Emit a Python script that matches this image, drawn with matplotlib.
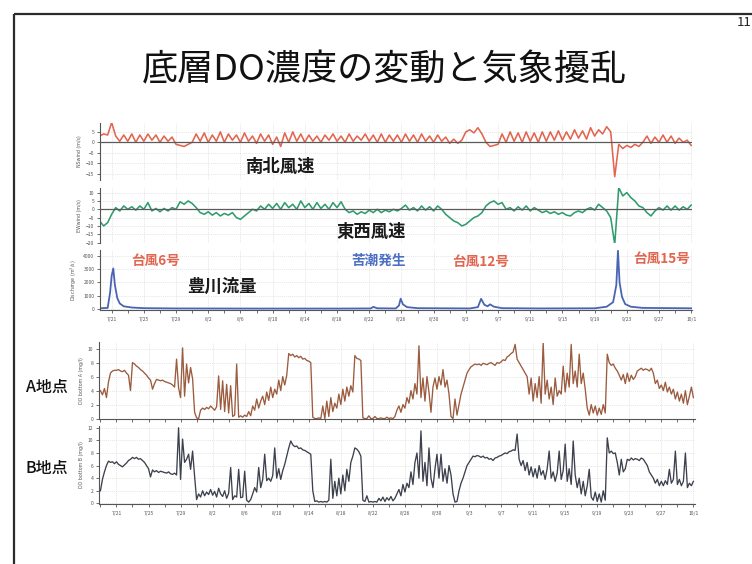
import datetime as dt
import numpy as np
import matplotlib
matplotlib.use("Agg")
import matplotlib.pyplot as plt
from matplotlib.ticker import FixedLocator, MultipleLocator

plt.rcParams['font.family'] = ['Noto Sans CJK JP', 'DejaVu Sans']

# ---------------------------------------------------------------- data
# time axis: days counted from 7/19
origin = dt.date(2000, 7, 19)
date_labels = ['7/21', '7/25', '7/29', '8/2', '8/6', '8/10', '8/14', '8/18',
               '8/22', '8/26', '8/30', '9/3', '9/7', '9/11', '9/15', '9/19',
               '9/23', '9/27', '10/1']

# wind speed (m/s), 12-hourly samples starting 7/19 12:00
WIND_START, WIND_STEP = 0.5, 0.5
ns_wind = [
    3, 4, 3.5, 9.5, 3, 0.5, 3.5, 0.5, 4, 0,
    3.5, 0.5, 4, 1, 3.5, 0, 3, 0.5, 2.5, -1,
    -1.5, -2, -1, 0, 4, 0.5, 4.5, 0, 3.5, 0.5,
    5, 0, 4, 1, 3.5, 0, 4.5, 0.5, 3, -0.5,
    4, 0.5, 3.5, -1, 2.5, -2, 4.5, 0, 5, 0.5,
    4, 0, 3.5, 0.5, 3, 0, 3.5, 1, 4, 0.5,
    3, 0, 4, 0.5, 3, 1, 4, 0.5, 3.5, 0,
    4, 0, 3.5, 0.5, 3.5, 0, 4, 0.5, 3.5, 0,
    4, 0.5, 3, 0, 3.5, 0.5, 2.5, -0.5, 1.5, -0.5,
    1, 5, 6, 4.5, 7, 4, 0, -2, -1.5, -1,
    4, 0, 5, 0.5, 4.5, 0, 5, 0.5, 4.5, 0,
    5, 0.5, 5, 1, 5.5, 1, 5, 1.5, 6, 2,
    5.5, 1.5, 7, 3, 6, 4, 7.5, 5, -16.5, -1,
    -3, -1.5, -2.5, -1, -2, 0, 3, -0.5, 2.5, 0,
    3.5, 0, 3, -0.5, 2, 0, 1, -1.5,
]
ew_wind = [
    -7, -10, -8, -3, 1, -1, 2, 0, 1.5, -0.5,
    2, 0, 4, -1, 0.5, -1.5, 0.5, -1, 1, 0,
    4.5, 3, 5, 3.5, 1, -2, -3, -1.5, -3.5, -2,
    -4, -2.5, -3.5, -2, -5, -6, -4, -2, 0, -1,
    2, 0, 3, 0.5, 3.5, 0, 4, 1, 3, 0,
    5, 1, 3.5, 0, 4, 0.5, 3, 0, 4, 1,
    4.5, 0, -2, -1, -3, -1.5, -2.5, -0.5, -2, 0,
    -2, -0.5, -1.5, 0, -1, 0.5, 2.5, -0.5, 1, -1,
    2, -0.5, 1.5, -1, 2, 0, -3, -5, -7, -8,
    -10, -9, -7, -5, -4, -2, 2, 4, 5, 3,
    4, 0, 1, -1, 1.5, -0.5, 2, -1, 1, -0.5,
    -2, -1, -2.5, -1.5, -3, -2, -3.5, -4, -2, -1,
    -2, 0, 1, -0.5, 3, 1, -1, -5, -21, 13,
    8, 10, 7, 5, 2, 1, -2, -4, -1, 1,
    -0.5, 2, -0.5, 2, -0.5, 1.5, 0, 2.5,
]

# Toyogawa river discharge (m3/s)
q_day = [0.5, 1.5, 1.8, 2.0, 2.2, 2.4, 2.7, 3.0, 3.5, 4.5,
         6.0, 10.0, 20.0, 30.0, 34.2, 34.5, 35.0, 37.3, 37.7, 37.9,
         38.2, 38.7, 40.0, 46.5, 47.5, 47.9, 48.3, 48.7, 49.0, 49.5,
         50.5, 55.0, 62.0, 63.5, 64.3, 64.7, 64.9, 65.1, 65.4, 65.8,
         66.5, 68.0, 74.1]
q_val = [30, 60, 1200, 2500, 3060, 1800, 800, 400, 180, 90,
         40, 20, 10, 10, 20, 140, 30, 20, 250, 760,
         320, 120, 40, 20, 120, 750, 300, 180, 330, 150,
         40, 20, 30, 150, 500, 1800, 4400, 2000, 900, 350,
         150, 60, 30]

# bottom-layer DO (mg/l), 6-hourly samples starting 7/19 00:00
DO_START, DO_STEP = 0.0, 0.25
do_a = [
    4.0, 3.4, 4.3, 3.0, 5.2, 6.5, 6.8, 6.9,
    6.9, 7.0, 6.8, 6.7, 6.9, 6.5, 6.2, 4.0,
    8.0, 7.8, 7.5, 7.3, 7.0, 6.8, 6.5, 6.2,
    5.8, 5.5, 4.2, 5.0, 5.6, 5.5, 5.4, 5.5,
    5.3, 5.2, 5.1, 5.0, 4.8, 4.5, 8.5, 4.4,
    3.0, 10.1, 3.2, 7.8, 5.1, 7.3, 5.7, 0.9,
    0.1, 0.0, 1.2, 1.5, 1.3, 1.6, 1.4, 1.8,
    1.5, 1.2, 1.7, 6.1, 1.3, 5.4, 1.0, 4.9,
    0.8, 4.7, 0.3, 0.5, 7.8, 0.2, 0.4, 0.2,
    0.5, 0.3, 1.0, 0.4, 1.8, 1.2, 2.8, 1.5,
    2.5, 3.2, 2.0, 3.8, 2.6, 4.5, 3.0, 4.2,
    3.5, 5.5, 4.0, 6.0, 4.8, 6.2, 9.3, 9.0,
    9.2, 8.8, 9.0, 8.7, 8.9, 8.5, 8.6, 8.3,
    8.2, 8.0, 0.2, 0.0, 0.0, 0.1, 0.0, 1.8,
    0.0, 2.5, 0.3, 3.0, 1.0, 2.2, 1.5, 3.5,
    2.0, 4.2, 2.5, 4.5, 3.2, 4.7, 3.8, 9.0,
    8.6, 8.5, 8.3, 0.1, 0.0, 0.0, 0.4, 0.0,
    0.0, 0.3, 0.0, 0.0, 0.1, 0.0, 0.0, 0.2,
    0.0, 0.1, 0.0, 0.3, 1.2, 1.8, 0.9, 2.0,
    1.5, 3.0, 2.2, 4.0, 2.8, 5.0, 3.5, 10.4,
    3.0, 5.8, 2.5, 6.0, 3.8, 0.9, 4.5, 5.8,
    4.2, 6.0, 4.8, 7.0, 4.5, 5.5, 3.5, 0.3,
    0.0, 2.8, 0.5, 2.0, 3.5, 4.5, 5.5, 6.5,
    7.0, 7.4, 7.6, 7.8, 7.7, 7.8, 7.6, 7.9,
    7.8, 7.7, 7.9, 8.0, 7.8, 7.6, 8.0, 7.9,
    8.1, 8.4, 8.3, 8.8, 9.0, 9.3, 9.5, 10.6,
    8.5, 8.0, 7.5, 7.0, 6.5, 6.0, 3.5, 5.8,
    2.5, 5.0, 3.0, 6.0, 2.2, 10.9, 3.5, 5.5,
    2.8, 4.5, 2.0, 5.8, 3.2, 4.0, 3.5, 7.5,
    3.8, 6.5, 4.5, 10.6, 5.0, 6.8, 4.5, 9.2,
    5.0, 6.5, 4.2, 1.5, 0.5, 2.0, 0.8, 1.8,
    0.5, 1.5, 0.6, 2.0, 0.8, 9.2, 8.0, 7.6,
    7.8, 7.2, 6.8, 6.2, 5.5, 6.3, 5.0, 6.5,
    5.3, 6.2, 5.6, 6.0, 6.8, 7.0, 7.2, 6.9,
    7.1, 7.0, 6.8, 7.2, 6.5, 5.0, 5.5, 4.3,
    4.8, 4.0, 5.2, 3.8, 4.5, 3.5, 4.2, 2.8,
    3.8, 2.5, 3.5, 2.2, 4.0, 2.0, 3.2, 4.5,
    3.0,
]
do_b = [
    2.0, 3.8, 5.0, 6.0, 6.7, 6.5, 6.6, 6.3,
    6.6, 6.2, 6.0, 5.8, 6.1, 6.4, 6.8, 7.0,
    7.3, 7.1, 7.3, 7.0, 7.1, 6.8, 6.5, 6.0,
    5.5, 4.2, 5.3, 5.0, 5.2, 4.9, 5.1, 5.0,
    4.9, 4.8, 5.0, 4.7, 4.6, 4.8, 4.5, 12.0,
    3.8, 10.2, 6.5, 7.0, 7.8, 5.4, 8.3, 4.3,
    0.6, 1.5, 1.0, 2.0, 1.2, 1.8, 1.4, 2.2,
    1.3, 1.9, 1.0, 2.4, 1.5, 1.1, 2.0, 0.8,
    1.6, 5.7, 0.6, 1.2, 1.0, 5.4, 0.9, 1.0,
    5.1, 0.5, 0.2, 0.6, 1.5, 2.5, 1.8, 5.7,
    2.5, 3.8, 7.8, 3.6, 4.0, 3.5, 4.4, 8.8,
    4.0, 5.5, 3.8, 5.2, 6.2, 7.5, 8.8, 9.9,
    9.3, 9.0, 9.1, 8.7, 8.8, 8.5, 8.4, 8.2,
    8.0, 7.8, 2.0, 0.3, 0.4, 0.2, 0.3, 0.2,
    0.3, 0.2, 0.5, 7.0, 0.8, 3.5, 1.2, 4.0,
    1.5, 4.5, 2.0, 5.4, 3.5, 6.5, 7.5, 8.8,
    8.6, 8.2, 7.5, 0.5, 0.3, 1.2, 0.2, 0.3,
    0.2, 0.3, 0.2, 0.8, 0.4, 1.0, 0.3, 0.9,
    0.5, 1.1, 0.4, 0.8, 1.5, 2.2, 1.2, 3.0,
    1.8, 3.2, 2.5, 5.0, 3.0, 6.5, 8.0, 4.0,
    11.5, 3.5, 6.5, 2.8, 8.8, 4.0, 2.5, 5.5,
    7.8, 4.0, 7.8, 3.5, 5.5, 3.2, 6.0, 4.5,
    1.5, 0.2, 0.3, 2.0, 3.2, 4.0, 5.0, 6.0,
    6.5, 7.0, 7.5, 7.4, 7.6, 7.5, 7.3, 7.5,
    7.2, 7.3, 7.0, 7.1, 6.8, 7.2, 7.3, 7.5,
    7.6, 7.8, 8.0, 7.9, 8.2, 8.3, 8.5, 8.4,
    11.0, 7.0, 6.0, 6.8, 5.2, 6.5, 4.5, 5.8,
    4.2, 5.5, 4.0, 6.0, 4.5, 5.2, 3.8, 5.5,
    8.3, 4.0, 5.0, 3.5, 4.8, 8.3, 3.8, 5.2,
    9.4, 3.5, 5.5, 3.0, 9.9, 4.5, 2.5, 4.0,
    1.5, 3.5, 1.2, 2.8, 5.4, 1.0, 0.5, 1.8,
    0.3, 1.5, 0.2, 2.0, 0.5, 10.4, 8.0, 8.3,
    7.9, 8.0, 6.5, 4.5, 7.0, 5.0, 5.5, 7.0,
    6.8, 7.2, 6.9, 7.1, 7.0, 6.8, 7.2, 7.0,
    6.5, 6.0, 5.0, 4.5, 4.0, 3.2, 3.8, 2.8,
    3.5, 2.8, 3.6, 3.0, 5.4, 3.2, 3.8, 8.3,
    3.0, 3.8, 2.8, 3.5, 8.0, 2.5, 3.2, 2.8,
    3.5,
]

# ---------------------------------------------------------------- figure
W, H = 752, 564
fig = plt.figure(figsize=(W / 100, H / 100), dpi=100)
fig.patch.set_facecolor('white')


def box(x0, y0, x1, y1):
    """pixel box (top-left origin) -> figure rect"""
    return [x0 / W, 1 - y1 / H, (x1 - x0) / W, (y1 - y0) / H]


def day_of(label):
    m, d = map(int, label.split('/'))
    return (dt.date(2000, m, d) - origin).days


label_days = [day_of(s) for s in date_labels]
t_wind = WIND_START + WIND_STEP * np.arange(len(ns_wind))
t_do = DO_START + DO_STEP * np.arange(len(do_a))

TICK_C = '#555555'
GRID_KW = dict(color='#dcdcdc', lw=0.5, ls=(0, (1.5, 1.5)))


def style(ax, xlim, ylim, yticks, ylabel, bottom=False, xlabels=False):
    ax.set_xlim(*xlim)
    ax.set_ylim(*ylim)
    for s in ('top', 'right'):
        ax.spines[s].set_visible(False)
    ax.spines['left'].set_color(TICK_C)
    ax.spines['left'].set_linewidth(0.8)
    ax.spines['bottom'].set_visible(bottom)
    ax.spines['bottom'].set_color(TICK_C)
    ax.spines['bottom'].set_linewidth(0.8)
    ax.yaxis.set_major_locator(FixedLocator(yticks))
    ax.xaxis.set_major_locator(FixedLocator(label_days))
    ax.xaxis.set_minor_locator(MultipleLocator(2))
    ax.tick_params(axis='y', length=2.5, width=0.6, color=TICK_C,
                   labelsize=3.6, labelcolor=TICK_C, pad=1.5)
    ax.tick_params(axis='x', which='both', length=2.5 if bottom else 0,
                   width=0.6, color=TICK_C, labelsize=3.6,
                   labelcolor=TICK_C, pad=2.5, labelbottom=xlabels)
    if xlabels:
        ax.set_xticklabels(date_labels)
    ax.grid(True, which='major', **GRID_KW)
    ax.set_axisbelow(True)
    ax.set_ylabel(ylabel, fontsize=3.4, color=TICK_C, labelpad=3,
                  family='DejaVu Sans')
    ax.patch.set_alpha(0)


up_x = (0.55, 74.1)
lo_x = (-0.18, 74.2)

ax_ns = fig.add_axes(box(100, 122.7, 692, 180))
ax_ns.plot(t_wind, ns_wind, color='#e2654f', lw=1.15)
ax_ns.axhline(0, color='#5a5a5a', lw=0.9, zorder=3)
style(ax_ns, up_x, (-18.1, 9.4), [-15, -10, -5, 0, 5], 'NSwind (m/s)')

ax_ew = fig.add_axes(box(100, 188, 692, 243))
ax_ew.plot(t_wind, ew_wind, color='#2f9c6e', lw=1.15)
ax_ew.axhline(0, color='#5a5a5a', lw=0.9, zorder=3)
style(ax_ew, up_x, (-20.2, 12.75), [-20, -15, -10, -5, 0, 5, 10],
      'EWwind (m/s)')

ax_q = fig.add_axes(box(100, 250, 692, 310))
ax_q.plot(q_day, q_val, color='#4a64b4', lw=1.3)
style(ax_q, up_x, (-99, 4457), [0, 1000, 2000, 3000, 4000],
      'Discharge (m$^3$/s)', bottom=True, xlabels=True)

ax_a = fig.add_axes(box(99, 342.5, 695, 419.3))
ax_a.plot(t_do, do_a, color='#9b5b3e', lw=0.95)
style(ax_a, lo_x, (-0.1, 10.87), [0, 2, 4, 6, 8, 10],
      'DO bottom A (mg/l)', bottom=True)

ax_b = fig.add_axes(box(99, 426, 695, 504))
ax_b.plot(t_do, do_b, color='#3c414d', lw=0.95)
style(ax_b, lo_x, (-0.1, 12.28), [0, 2, 4, 6, 8, 10, 12],
      'DO bottom B (mg/l)', bottom=True, xlabels=True)

# ---------------------------------------------------------------- slide text
ov = fig.add_axes([0, 0, 1, 1], zorder=10)
ov.set_xlim(0, W)
ov.set_ylim(H, 0)
ov.axis('off')
ov.patch.set_alpha(0)

ov.plot([14, 14], [14, H], color='#2b2b2b', lw=1.6, solid_capstyle='butt')
ov.plot([14, W], [14, 14], color='#2b2b2b', lw=1.6, solid_capstyle='butt')

ov.text(384, 70, '底層DO濃度の変動と気象擾乱', fontsize=26,
        ha='center', va='center', color='#111111')
ov.text(737, 22, '11', fontsize=9.5, ha='left', va='center', color='#222222')

ov.text(280, 167, '南北風速', fontsize=12.5, fontweight='bold',
        ha='center', va='center', color='#1a1a1a')
ov.text(371, 232, '東西風速', fontsize=12.5, fontweight='bold',
        ha='center', va='center', color='#1a1a1a')
ov.text(222, 287, '豊川流量', fontsize=12.5, fontweight='bold',
        ha='center', va='center', color='#1a1a1a')

RED = '#e2654f'
BLUE = '#4a6fc2'
ov.text(156, 261, '台風6号', fontsize=9.8, fontweight='bold',
        ha='center', va='center', color=RED)
ov.text(379, 261, '苦潮発生', fontsize=9.8, fontweight='bold',
        ha='center', va='center', color=BLUE)
ov.text(481, 262, '台風12号', fontsize=9.8, fontweight='bold',
        ha='center', va='center', color=RED)
ov.text(662, 259, '台風15号', fontsize=9.8, fontweight='bold',
        ha='center', va='center', color=RED)

ov.text(47, 387, 'A地点', fontsize=11.5, fontweight='medium',
        ha='center', va='center', color='#111111')
ov.text(47, 468, 'B地点', fontsize=11.5, fontweight='medium',
        ha='center', va='center', color='#111111')

fig.savefig('out.png', dpi=100)
